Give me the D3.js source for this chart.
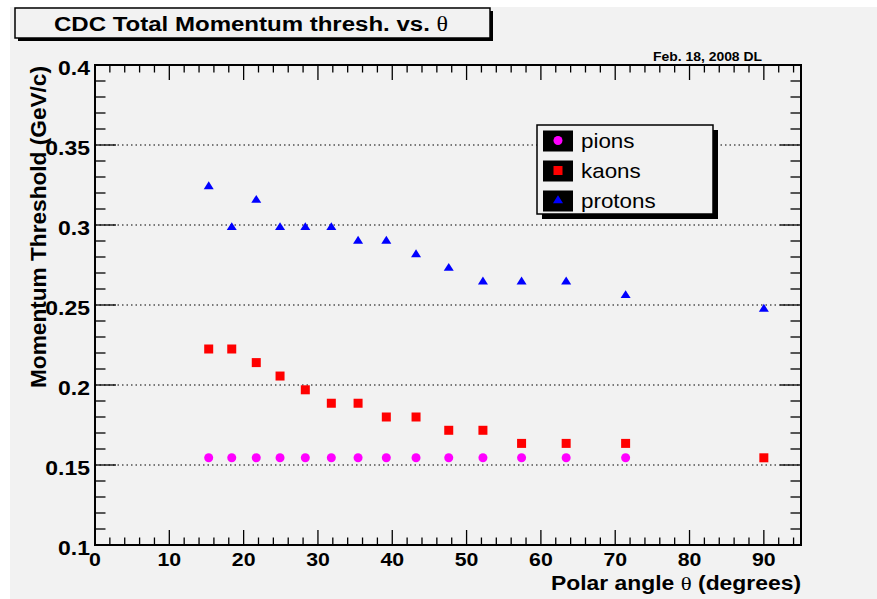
<!DOCTYPE html>
<html><head><meta charset="utf-8">
<script src="https://cdn.jsdelivr.net/npm/d3@7"></script>
<style>body{margin:0;padding:0;background:#fff;} svg{display:block;}</style>
</head><body>
<script>
// ---- data ----
const theta   = [15.3, 18.4, 21.7, 24.9, 28.3, 31.8, 35.4, 39.2, 43.2, 47.6, 52.2, 57.4, 63.4, 71.4, 90.0];
const pions   = [0.1545,0.1545,0.1545,0.1545,0.1545,0.1545,0.1545,0.1545,0.1545,0.1545,0.1545,0.1545,0.1545,0.1545];
const pionTheta = [15.3, 18.4, 21.7, 24.9, 28.3, 31.8, 35.4, 39.2, 43.2, 47.6, 52.2, 57.4, 63.4, 71.4];
const kaons   = [0.2225,0.2225,0.214,0.2056,0.197,0.1886,0.1886,0.180,0.180,0.1717,0.1717,0.1635,0.1635,0.1635,0.1545];
const protons = [0.324,0.2985,0.3155,0.2985,0.2985,0.2985,0.290,0.290,0.2815,0.273,0.2645,0.2645,0.2645,0.256,0.2475];
const xTicks  = [0,10,20,30,40,50,60,70,80,90];
const yTicks  = [0.1,0.15,0.2,0.25,0.3,0.35,0.4];
const yTickLabels = ["0.1","0.15","0.2","0.25","0.3","0.35","0.4"];
const legendNames = ["pions","kaons","protons"];
const titleText = "CDC Total Momentum thresh. vs. ";
const xTitle = "Polar angle ";
const yTitle = "Momentum Threshold (GeV/c)";
const dateText = "Feb. 18, 2008 DL";

const W = 877, H = 599, SX = 1.12;
const svg = d3.select("body").append("svg").attr("width", W).attr("height", H);
svg.append("rect").attr("width", W).attr("height", H).attr("fill", "#ffffff");
svg.append("rect").attr("x", 10).attr("y", 7).attr("width", W-10).attr("height", H-7).attr("fill", "#f2f2f2");

const x = d3.scaleLinear().domain([0, 95]).range([95, 801]);
const y = d3.scaleLinear().domain([0.1, 0.4]).range([545, 65]);
const FONT = "'Liberation Sans', Arial, Helvetica, sans-serif";

function txt(g, tx, ty, s, opts) {
  const sx = opts.sx || SX;
  const t = g.append("text")
    .attr("transform", `translate(${tx},${ty}) scale(${sx},1)` + (opts.rotate ? ` rotate(${opts.rotate})` : ""))
    .attr("font-family", FONT).attr("font-size", opts.size).attr("font-weight", opts.weight || "bold")
    .attr("text-anchor", opts.anchor || "start").attr("fill", "#000");
  if (opts.len) t.attr("textLength", opts.len).attr("lengthAdjust", "spacingAndGlyphs");
  t.text(s);
  return t;
}

// grid lines
svg.append("g").selectAll("line").data([0.15,0.2,0.25,0.3,0.35]).join("line")
  .attr("x1", x(0)).attr("x2", x(95)).attr("y1", d => y(d)).attr("y2", d => y(d))
  .attr("stroke", "#000").attr("stroke-width", 1).attr("stroke-dasharray", "1.5,3");

// ticks (four sides)
const ticksG = svg.append("g").attr("stroke", "#000").attr("stroke-width", 1.3);
const xMinor = d3.range(0, 95, 2);
const yMinor = d3.range(0, 31).map(i => 0.1 + i*0.01);
xMinor.forEach(v => {
  const major = v % 10 === 0; const L = major ? 15 : 7.5;
  ticksG.append("line").attr("x1", x(v)).attr("x2", x(v)).attr("y1", y(0.1)).attr("y2", y(0.1) - L);
  ticksG.append("line").attr("x1", x(v)).attr("x2", x(v)).attr("y1", y(0.4)).attr("y2", y(0.4) + L);
});
yMinor.forEach((v, i) => {
  const major = i % 5 === 0; const L = major ? 21 : 10.5;
  ticksG.append("line").attr("x1", x(0)).attr("x2", x(0) + L).attr("y1", y(v)).attr("y2", y(v));
  ticksG.append("line").attr("x1", x(95)).attr("x2", x(95) - L).attr("y1", y(v)).attr("y2", y(v));
});

// frame
svg.append("rect").attr("x", x(0)).attr("y", y(0.4)).attr("width", x(95)-x(0)).attr("height", y(0.1)-y(0.4))
  .attr("fill", "none").attr("stroke", "#000").attr("stroke-width", 2);

// tick labels
const lab = svg.append("g");
xTicks.forEach(v => txt(lab, x(v), 565.5, String(v), {size: 19, anchor: "middle"}));
yTicks.forEach((v, i) => txt(lab, 90, y(v) + 10, yTickLabels[i], {size: 20.5, anchor: "end"}));

// axis titles
const xt = txt(svg, 801, 590, "", {size: 19.5, anchor: "end", len: 250 / SX});
xt.append("tspan").text(xTitle);
xt.append("tspan").attr("font-family", "'Liberation Serif', 'Times New Roman', serif").attr("font-weight", "normal").text("θ");
xt.append("tspan").text(" (degrees)");
txt(svg, 46, 66, yTitle, {size: 21, anchor: "end", rotate: -90, sx: 1.05, len: 322});

// markers
const pts = svg.append("g");
pts.selectAll("circle").data(pions).join("circle")
  .attr("cx", (d, i) => x(pionTheta[i])).attr("cy", d => y(d)).attr("r", 4.5).attr("fill", "#ff00ff");
pts.selectAll("rect.k").data(kaons).join("rect").attr("class", "k")
  .attr("x", (d, i) => x(theta[i]) - 4.5).attr("y", d => y(d) - 4.5).attr("width", 9).attr("height", 9).attr("fill", "#ff0000");
const tri = d3.symbol().type(d3.symbolTriangle).size(36);
pts.selectAll("path.p").data(protons).join("path").attr("class", "p")
  .attr("transform", (d, i) => `translate(${x(theta[i])},${y(d)}) scale(1.1,1)`).attr("d", tri).attr("fill", "#0000ff");

// title box
svg.append("rect").attr("x", 18).attr("y", 11).attr("width", 475).attr("height", 30).attr("fill", "#000");
svg.append("rect").attr("x", 15).attr("y", 8).attr("width", 475).attr("height", 30).attr("fill", "#f2f2f2")
  .attr("stroke", "#000").attr("stroke-width", 1.5);
const tt = txt(svg, 251, 31, "", {size: 20.5, anchor: "middle", len: 394 / SX});
tt.append("tspan").text(titleText);
tt.append("tspan").attr("font-family", "'Liberation Serif', 'Times New Roman', serif").attr("font-weight", "normal").text("θ");

// date
txt(svg, 707.5, 61, dateText, {size: 12.5, anchor: "middle", len: 109 / SX});

// legend
const lg = svg.append("g");
lg.append("rect").attr("x", 542).attr("y", 130).attr("width", 176).attr("height", 89).attr("fill", "#000");
lg.append("rect").attr("x", 537).attr("y", 125).attr("width", 176).attr("height", 89).attr("fill", "#f2f2f2")
  .attr("stroke", "#000").attr("stroke-width", 1.5);
legendNames.forEach((name, i) => {
  const cy = 140.5 + i*30;
  lg.append("rect").attr("x", 543).attr("y", cy - 10).attr("width", 30).attr("height", 21).attr("fill", "#000");
  if (i === 0) lg.append("circle").attr("cx", 558).attr("cy", cy).attr("r", 4.5).attr("fill", "#ff00ff");
  if (i === 1) lg.append("rect").attr("x", 553.5).attr("y", cy - 4.5).attr("width", 9).attr("height", 9).attr("fill", "#ff0000");
  if (i === 2) lg.append("path").attr("transform", `translate(558,${cy}) scale(1.1,1)`).attr("d", tri).attr("fill", "#0000ff");
  txt(lg, 581, cy + 7, name, {size: 20, weight: "normal"});
});
</script>
</body></html>
